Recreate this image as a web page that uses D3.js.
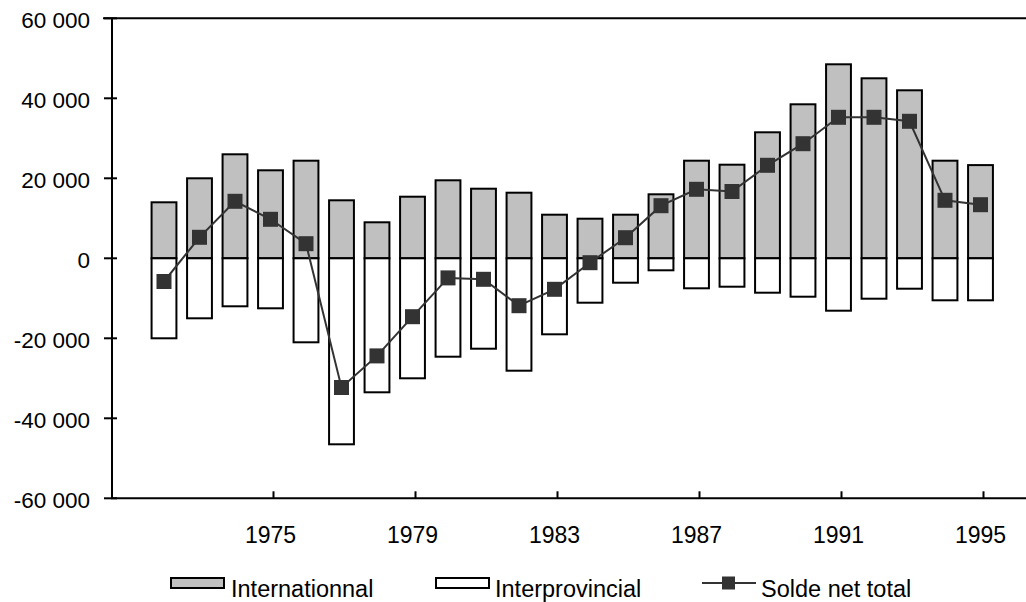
<!DOCTYPE html>
<html><head><meta charset="utf-8">
<script src="https://cdn.jsdelivr.net/npm/d3@7"></script>
<style>
html,body{margin:0;padding:0;background:#fff;}
svg text{font-family:"Liberation Sans",Arial,sans-serif;fill:#000;}
</style>
</head><body>
<svg id="chart" width="1026" height="602"></svg>
<script>
const years = [1972,1973,1974,1975,1976,1977,1978,1979,1980,1981,1982,1983,1984,1985,1986,1987,1988,1989,1990,1991,1992,1993,1994,1995];
const international = [14000,20000,26000,22000,24400,14500,9000,15400,19500,17400,16400,10900,9900,10900,16000,24400,23400,31500,38500,48500,45000,42000,24400,23300];
const interprovincial = [-20000,-15000,-12000,-12500,-21000,-46500,-33500,-30000,-24600,-22600,-28100,-19000,-11100,-6100,-3000,-7500,-7100,-8600,-9600,-13100,-10100,-7600,-10500,-10500];
const netTotal = [-5800,5250,14250,9750,3650,-32300,-24400,-14600,-4900,-5250,-11850,-7750,-1100,5150,13150,17250,16700,23250,28650,35250,35250,34250,14500,13400];
const yTicks = [-60000,-40000,-20000,0,20000,40000,60000];
const xTickYears = [1975,1979,1983,1987,1991,1995];
const seriesNames = ["Internationnal","Interprovincial","Solde net total"];

const svg = d3.select("#chart");
const fmt = v => (v < 0 ? "-" : "") + d3.format(",")(Math.abs(v)).replace(/,/g," ");

const x = d3.scaleBand().domain(years).range([146.25, 998.25]).paddingInner(0.3).paddingOuter(0.15);
const y = d3.scaleLinear().domain([-60000, 60000]).range([498.3, 18.3]);
const cx = yr => x(yr) + x.bandwidth()/2;

// top frame line
svg.append("line").attr("x1",103).attr("x2",1026).attr("y1",y(60000)).attr("y2",y(60000))
  .attr("stroke","#000").attr("stroke-width",2);

// bars
const g = svg.append("g");
g.selectAll("rect.intl").data(years).join("rect").attr("class","intl")
  .attr("x", d => x(d)).attr("width", x.bandwidth())
  .attr("y", (d,i) => y(international[i])).attr("height", (d,i) => y(0) - y(international[i]))
  .attr("fill","#c0c0c0").attr("stroke","#000").attr("stroke-width",2);
g.selectAll("rect.inter").data(years).join("rect").attr("class","inter")
  .attr("x", d => x(d)).attr("width", x.bandwidth())
  .attr("y", y(0)).attr("height", (d,i) => y(interprovincial[i]) - y(0))
  .attr("fill","#fff").attr("stroke","#000").attr("stroke-width",2);

// y axis
svg.append("line").attr("x1",112).attr("x2",112).attr("y1",y(60000)).attr("y2",y(-60000))
  .attr("stroke","#000").attr("stroke-width",2);
yTicks.forEach(t => {
  svg.append("line").attr("x1",104).attr("x2",117).attr("y1",y(t)).attr("y2",y(t))
    .attr("stroke","#000").attr("stroke-width",2);
  svg.append("text").attr("x",90).attr("y",y(t)+10).attr("text-anchor","end")
    .attr("font-size",22.5).text(fmt(t));
});

// x axis
svg.append("line").attr("x1",111).attr("x2",1026).attr("y1",y(-60000)).attr("y2",y(-60000))
  .attr("stroke","#000").attr("stroke-width",2);
xTickYears.forEach(yr => {
  svg.append("line").attr("x1",cx(yr)+3).attr("x2",cx(yr)+3).attr("y1",y(-60000)).attr("y2",y(-60000)-7)
    .attr("stroke","#000").attr("stroke-width",2);
  svg.append("text").attr("x",cx(yr)).attr("y",543).attr("text-anchor","middle")
    .attr("font-size",23).text(yr);
});

// net line
const line = d3.line().x((d,i) => cx(years[i])).y(d => y(d));
svg.append("path").datum(netTotal).attr("d", line).attr("fill","none")
  .attr("stroke","#333").attr("stroke-width",2);
svg.selectAll("rect.mk").data(netTotal).join("rect").attr("class","mk")
  .attr("x",(d,i) => cx(years[i]) - 7.5).attr("y", d => y(d) - 7.5)
  .attr("width",15).attr("height",15).attr("fill","#333");

// legend
const lg = svg.append("g");
lg.append("rect").attr("x",171).attr("y",578).attr("width",53).attr("height",10)
  .attr("fill","#c0c0c0").attr("stroke","#000").attr("stroke-width",2);
lg.append("text").attr("x",231).attr("y",597).attr("font-size",23.5).text(seriesNames[0]);
lg.append("rect").attr("x",436).attr("y",578).attr("width",53).attr("height",10)
  .attr("fill","#fff").attr("stroke","#000").attr("stroke-width",2);
lg.append("text").attr("x",495).attr("y",597).attr("font-size",23.5).text(seriesNames[1]);
lg.append("line").attr("x1",702).attr("x2",756).attr("y1",583).attr("y2",583)
  .attr("stroke","#333").attr("stroke-width",2);
lg.append("rect").attr("x",722).attr("y",576.5).attr("width",13).attr("height",13).attr("fill","#333");
lg.append("text").attr("x",761).attr("y",597).attr("font-size",23.5).text(seriesNames[2]);
</script>
</body></html>
